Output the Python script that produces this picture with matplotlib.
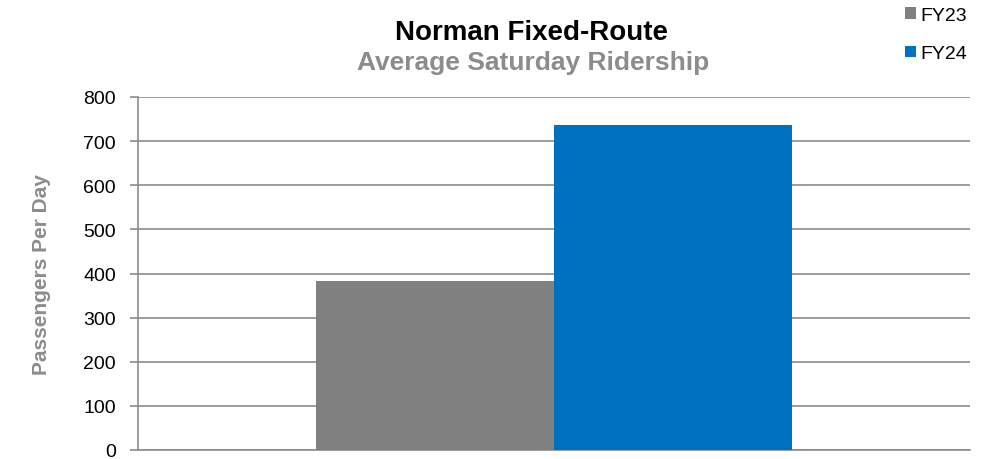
import matplotlib.pyplot as plt
import numpy as np

plt.rcParams['font.family'] = ['Liberation Sans', 'DejaVu Sans']

# Werte
series = ['FY23', 'FY24']
values = [384, 737]
colors = ['#808080', '#0070C0']
yticks = [0, 100, 200, 300, 400, 500, 600, 700, 800]

W, H = 987, 460
fig = plt.figure(figsize=(W / 100, H / 100), dpi=100)
ax = fig.add_axes([138 / W, 1 - 451 / H, (970 - 138) / W, (451 - 98) / H])

width = 0.286
offsets = [-width / 2, width / 2]
for name, val, col, off in zip(series, values, colors, offsets):
    ax.bar(off, val, width=width, color=col, label=name, zorder=3)

ax.set_xlim(-0.5, 0.5)
ax.set_ylim(0, 800)
ax.set_yticks(yticks)
ax.set_xticks([])
ax.grid(axis='y', color='#8c8c8c', linewidth=1.2, zorder=0)
for s in ['top', 'right']:
    ax.spines[s].set_visible(False)
for s in ['left', 'bottom']:
    ax.spines[s].set_color('#8c8c8c')
    ax.spines[s].set_linewidth(1.2)
ax.tick_params(axis='y', colors='#8c8c8c', labelcolor='black', labelsize=14,
               length=6, width=1.2, pad=10)

ax.set_ylabel('Passengers Per Day', color='#8c8c8c', fontsize=15, fontweight='bold', labelpad=23)

fig.text(532 / W, 1 - 40 / H, 'Norman Fixed-Route', ha='center', va='baseline',
         fontsize=20, fontweight='bold')
fig.text(533 / W, 1 - 70 / H, 'Average Saturday Ridership', ha='center', va='baseline',
         fontsize=19, fontweight='bold', color='#8c8c8c')

fig.legend(loc='upper left', bbox_to_anchor=(905 / W, 1 - 8 / H), frameon=False, fontsize=14,
           handlelength=0.55, handleheight=0.55, handletextpad=0.25, labelspacing=1.1,
           borderpad=0, borderaxespad=0)

plt.savefig('out.png', dpi=100)
